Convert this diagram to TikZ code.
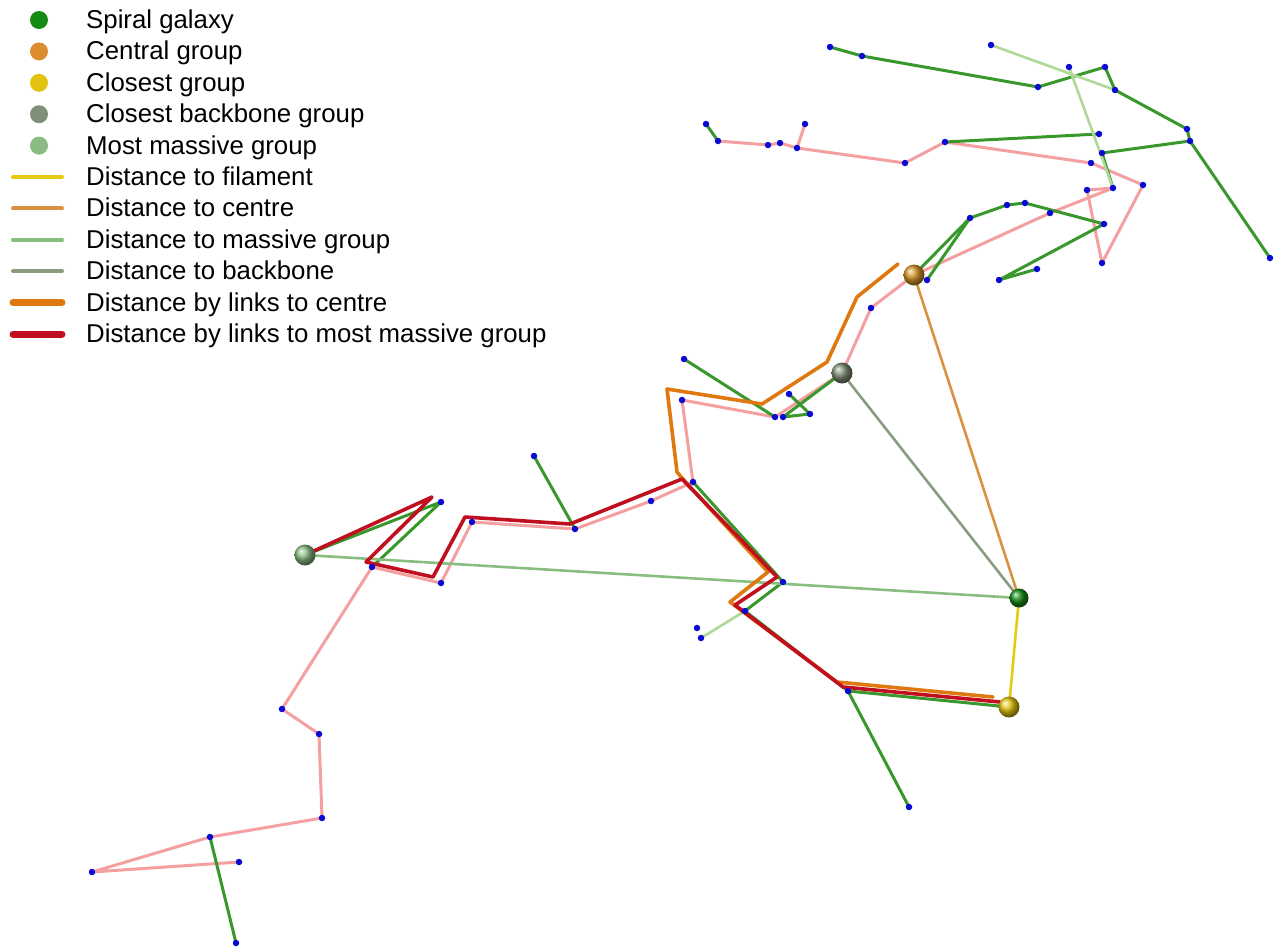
\documentclass[tikz,border=0pt]{standalone}
\usepackage{fontspec}
\setmainfont{Liberation Sans}
\definecolor{pinkl}{RGB}{244,160,160}
\definecolor{greenl}{RGB}{56,152,44}
\definecolor{paleg}{RGB}{176,216,150}
\definecolor{dotb}{RGB}{10,10,210}
\definecolor{massl}{RGB}{136,190,128}
\definecolor{backl}{RGB}{138,156,128}
\definecolor{centl}{RGB}{216,146,64}
\definecolor{filc}{RGB}{230,204,16}
\definecolor{linkc}{RGB}{224,120,16}
\definecolor{linkm}{RGB}{192,16,32}
\definecolor{spiral}{RGB}{20,140,20}
\definecolor{central}{RGB}{222,140,48}
\definecolor{centralball}{RGB}{214,150,40}
\definecolor{closest}{RGB}{226,196,16}
\definecolor{backb}{RGB}{128,144,120}
\definecolor{massive}{RGB}{136,188,128}
\tikzset{
  pinkedge/.style={draw=pinkl, line width=3pt, line join=round, line cap=round},
  greenedge/.style={draw=greenl, line width=3pt, line join=round, line cap=round},
  paleedge/.style={draw=paleg, line width=2.6pt, line cap=round},
  distline/.style={line width=2.6pt, line cap=round},
  linkpath/.style={line width=3.6pt, line join=round, line cap=round},
  bdot/.style={circle, fill=dotb, inner sep=0pt, minimum size=6.5pt},
  ball/.style={circle, shading=ball, inner sep=0pt, minimum size=21pt},
  legdot/.style={circle, inner sep=0pt, minimum size=18pt},
  legtext/.style={anchor=base west, inner sep=0pt, font=\fontsize{25.8}{31}\selectfont},
  legline/.style={line width=4pt, line cap=round},
  legthick/.style={line width=7pt, line cap=round}
}
\begin{document}
\begin{tikzpicture}[x=1pt,y=-1pt]
\useasboundingbox (0,0) rectangle (1275,946);
\foreach \n/\x/\y in {a1/830/47,a2/862/56,a3/1038/87,a4/1105/67,a5/1115/90,a6/1187/129,a7/1270/258,a8/991/45,a9/1069/67,a10/1099/134,a11/1102/153,a12/1190/141,a13/1113/188,
 b1/706/124,b2/718/141,b3/768/145,b4/780/143,b5/797/148,b6/805/124,b7/905/163,b8/945/142,b9/1091/163,b10/1143/185,b11/1102/263,b12/1087/190,b13/1050/213,
 c1/970/218,c2/1007/205,c3/1025/203,c4/1104/224,c5/999/280,c6/1037/269,c7/927/280,
 d1/871/308,d2/783/417,d3/775/417,d4/682/400,d5/693/482,d6/684/359,d7/789/394,d8/810/414,
 e1/441/502,e2/372/567,e3/441/583,e4/472/522,e5/575/529,e6/534/456,e7/651/501,
 f1/783/582,f2/745/611,f3/697/628,f4/701/638,f5/848/691,f6/909/807,
 g1/282/709,g2/319/734,g3/322/818,g4/210/837,g5/92/872,g6/239/862,g7/236/943}
 {\coordinate (\n) at (\x,\y);}
\coordinate (C) at (914,275);
\coordinate (B) at (842,373);
\coordinate (M) at (305,555);
\coordinate (G) at (1019,598);
\coordinate (Y) at (1009,707);
\foreach \n/\x/\y in {o1/898/264,o2/857/297,o3/827/362,o4/762/404,o5/667/389,o6/677/472,o7/682/478,o8/768/572,o9/730/602,o10/837/682,o11/993/697,
 r1/432/497,r2/366/562,r3/433/577,r4/465/517,r5/570/524,r6/682/479,r7/777/577,r8/735/605,r9/843/687,r10/1000/702}
 {\coordinate (\n) at (\x,\y);}
\draw[pinkedge] (b2) -- (b3) -- (b4) -- (b5) -- (b7) -- (b8) -- (b9) -- (b10) -- (b11) -- (b12) -- (a13) -- (b13) -- (C);
\draw[pinkedge] (b5) -- (b6);
\draw[pinkedge] (C) -- (d1) -- (B) -- (d3) -- (d4) -- (d5);
\draw[pinkedge] (d5) -- (e7) -- (e5) -- (e4) -- (e3) -- (e2) -- (g1) -- (g2) -- (g3) -- (g4) -- (g5) -- (g6);
\draw[greenedge] (a1) -- (a2) -- (a3) -- (a4) -- (a5) -- (a6) -- (a12) -- (a7);
\draw[greenedge] (b8) -- (a10);
\draw[greenedge] (a11) -- (a12);
\draw[greenedge] (a11) -- (a13);
\draw[greenedge] (b1) -- (b2);
\draw[greenedge] (C) -- (c1) -- (c2) -- (c3) -- (c4) -- (c5) -- (c6);
\draw[greenedge] (c1) -- (c7);
\draw[greenedge] (d6) -- (d3);
\draw[greenedge] (B) -- (d2) -- (d8) -- (d7);
\draw[greenedge] (M) -- (e1) -- (e2);
\draw[greenedge] (e6) -- (e5);
\draw[greenedge] (d5) -- (f1) -- (f2) -- (f5) -- (Y);
\draw[greenedge] (f5) -- (f6);
\draw[greenedge] (g4) -- (g7);
\draw[paleedge] (a8) -- (a5);
\draw[paleedge] (a9) -- (a13);
\draw[paleedge] (f2) -- (f4);
\draw[distline, draw=massl] (M) -- (G);
\draw[distline, draw=backl] (B) -- (G);
\draw[distline, draw=centl] (C) -- (G);
\draw[distline, draw=filc] (G) -- (Y);
\draw[linkpath, draw=linkc] (o1) -- (o2) -- (o3) -- (o4) -- (o5) -- (o6) -- (o7) -- (o8) -- (o9) -- (o10) -- (o11);
\draw[linkpath, draw=linkm] (M) -- (r1) -- (r2) -- (r3) -- (r4) -- (r5) -- (r6) -- (r7) -- (r8) -- (r9) -- (r10);
\foreach \n in {a1,a2,a3,a4,a5,a6,a7,a8,a9,a10,a11,a12,a13,b1,b2,b3,b4,b5,b6,b7,b8,b9,b10,b11,b12,b13,c1,c2,c3,c4,c5,c6,c7,d1,d2,d3,d4,d5,d6,d7,d8,e1,e2,e3,e4,e5,e6,e7,f1,f2,f3,f4,f5,f6,g1,g2,g3,g4,g5,g6,g7}
 {\node[bdot] at (\n) {};}
\node[ball, ball color=centralball] (Cb) at (C) {};
\node[ball, ball color=backb] (Bb) at (B) {};
\node[ball, ball color=massive] (Mb) at (M) {};
\node[ball, ball color=spiral, minimum size=19pt] (Gb) at (G) {};
\node[ball, ball color=closest] (Yb) at (Y) {};
\node[legdot, fill=spiral] (m1) at (39,20) {};
\node[legdot, fill=central] (m2) at (39,51.4) {};
\node[legdot, fill=closest] (m3) at (39,82.8) {};
\node[legdot, fill=backb] (m4) at (39,114.2) {};
\node[legdot, fill=massive] (m5) at (39,145.6) {};
\foreach \i/\y in {6/177,7/208.4,8/239.8,9/271.2,10/302.6,11/334}
 {\coordinate (l\i a) at (13,\y); \coordinate (l\i b) at (62,\y);}
\draw[legline, draw=filc] (l6a) -- (l6b);
\draw[legline, draw=centl] (l7a) -- (l7b);
\draw[legline, draw=massl] (l8a) -- (l8b);
\draw[legline, draw=backl] (l9a) -- (l9b);
\draw[legthick, draw=linkc] (l10a) -- (l10b);
\draw[legthick, draw=linkm] (l11a) -- (l11b);
\node[legtext] (t1) at (86,28.5) {Spiral galaxy};
\node[legtext] (t2) at (86,59.9) {Central group};
\node[legtext] (t3) at (86,91.3) {Closest group};
\node[legtext] (t4) at (86,122.7) {Closest backbone group};
\node[legtext] (t5) at (86,154.1) {Most massive group};
\node[legtext] (t6) at (86,185.5) {Distance to filament};
\node[legtext] (t7) at (86,216.9) {Distance to centre};
\node[legtext] (t8) at (86,248.3) {Distance to massive group};
\node[legtext] (t9) at (86,279.7) {Distance to backbone};
\node[legtext] (t10) at (86,311.1) {Distance by links to centre};
\node[legtext] (t11) at (86,342.5) {Distance by links to most massive group};
\end{tikzpicture}
\end{document}
